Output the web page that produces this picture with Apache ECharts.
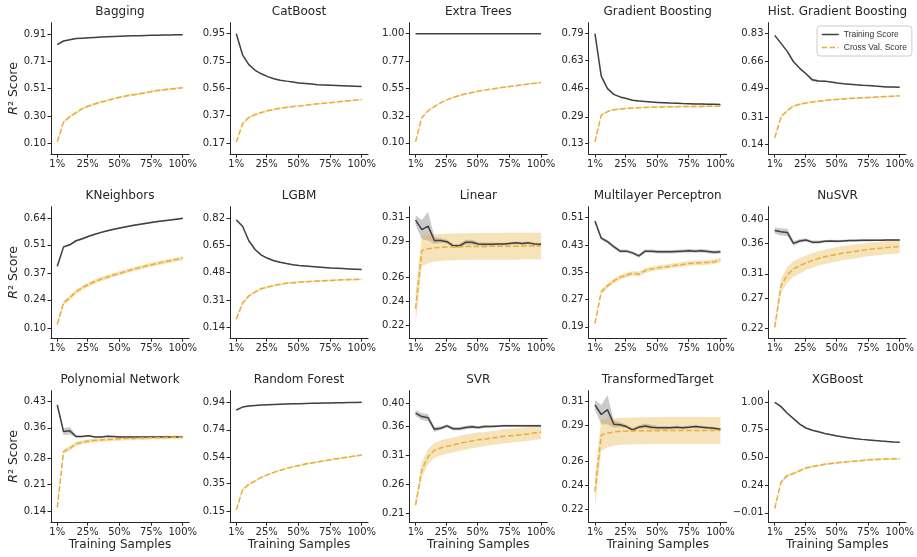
<!DOCTYPE html>
<html><head><meta charset="utf-8">
<script src="https://cdn.jsdelivr.net/npm/echarts@6/dist/echarts.min.js"></script>
<style>html,body{margin:0;padding:0;background:#fff}#c{width:917px;height:557px}</style>
</head><body><div id="c"></div>
<script>
// ---- data ----
const xPct = [1, 5.95, 10.9, 15.85, 20.8, 25.75, 30.7, 35.65, 40.6, 45.55, 50.5, 55.45, 60.4, 65.35, 70.3, 75.25, 80.2, 85.15, 90.1, 95.05, 100];
const xTickVals = [1, 25, 50, 75, 100];

const baggingTicks = [0.10, 0.30, 0.51, 0.71, 0.91];
const baggingTrain = [0.835,0.862,0.872,0.880,0.883,0.886,0.889,0.891,0.893,0.895,0.897,0.899,0.901,0.902,0.903,0.904,0.905,0.906,0.907,0.908,0.909];
const baggingCv = [0.115,0.26,0.30,0.33,0.36,0.38,0.395,0.41,0.42,0.435,0.445,0.455,0.462,0.47,0.476,0.488,0.494,0.50,0.505,0.51,0.515];
const baggingTrainStd = [0.004,0.004,0.003,0.003,0.003,0.003,0.002,0.002,0.002,0.002,0.002,0.002,0.002,0.002,0.002,0.002,0.002,0.002,0.002,0.002,0.002];
const baggingCvStd = [0.01,0.01,0.009,0.009,0.009,0.009,0.008,0.008,0.008,0.008,0.008,0.008,0.008,0.008,0.008,0.008,0.008,0.008,0.008,0.008,0.008];

const catTicks = [0.17, 0.37, 0.56, 0.75, 0.95];
const catTrain = [0.95,0.80,0.73,0.69,0.665,0.645,0.63,0.62,0.613,0.607,0.60,0.596,0.592,0.588,0.586,0.584,0.582,0.58,0.578,0.576,0.574];
const catCv = [0.18,0.31,0.355,0.375,0.39,0.402,0.412,0.42,0.427,0.432,0.437,0.442,0.447,0.452,0.456,0.46,0.465,0.47,0.474,0.478,0.482];
const catTrainStd = [0.003,0.003,0.003,0.003,0.003,0.003,0.003,0.003,0.003,0.003,0.003,0.003,0.003,0.003,0.003,0.003,0.003,0.003,0.003,0.003,0.003];
const catCvStd = [0.009,0.009,0.008,0.008,0.007,0.007,0.006,0.006,0.006,0.006,0.005,0.005,0.005,0.005,0.005,0.005,0.005,0.005,0.005,0.005,0.005];

const etTicks = [0.10, 0.32, 0.55, 0.77, 1.00];
const etTrain = [1,1,1,1,1,1,1,1,1,1,1,1,1,1,1,1,1,1,1,1,1];
const etCv = [0.11,0.31,0.365,0.40,0.43,0.455,0.475,0.49,0.505,0.515,0.525,0.535,0.543,0.551,0.558,0.565,0.572,0.579,0.585,0.591,0.598];
const etTrainStd = [0,0,0,0,0,0,0,0,0,0,0,0,0,0,0,0,0,0,0,0,0];
const etCvStd = [0.008,0.007,0.007,0.006,0.006,0.006,0.006,0.006,0.006,0.006,0.006,0.006,0.006,0.006,0.006,0.006,0.006,0.006,0.006,0.006,0.006];

const gbTicks = [0.13, 0.29, 0.46, 0.63, 0.79];
const gbTrain = [0.79,0.535,0.46,0.425,0.41,0.40,0.39,0.385,0.382,0.379,0.377,0.375,0.373,0.372,0.370,0.369,0.368,0.367,0.366,0.366,0.365];
const gbCv = [0.14,0.30,0.322,0.333,0.338,0.341,0.343,0.345,0.347,0.348,0.349,0.35,0.351,0.351,0.352,0.352,0.353,0.353,0.354,0.354,0.355];
const gbTrainStd = [0.004,0.004,0.003,0.003,0.003,0.003,0.003,0.003,0.003,0.003,0.003,0.003,0.003,0.003,0.003,0.003,0.003,0.003,0.003,0.003,0.003];
const gbCvStd = [0.008,0.006,0.005,0.005,0.005,0.005,0.005,0.005,0.005,0.005,0.005,0.005,0.005,0.005,0.005,0.005,0.005,0.005,0.005,0.005,0.005];

const hgbTicks = [0.14, 0.31, 0.49, 0.66, 0.83];
const hgbTrain = [0.82,0.77,0.72,0.655,0.614,0.58,0.542,0.535,0.534,0.528,0.522,0.518,0.515,0.511,0.508,0.506,0.503,0.501,0.498,0.497,0.495];
const hgbCv = [0.18,0.31,0.35,0.378,0.39,0.398,0.404,0.409,0.413,0.417,0.42,0.423,0.426,0.428,0.43,0.432,0.434,0.436,0.438,0.44,0.442];
const hgbTrainStd = [0.004,0.004,0.004,0.004,0.004,0.005,0.009,0.006,0.004,0.004,0.003,0.003,0.003,0.003,0.003,0.003,0.003,0.003,0.003,0.003,0.003];
const hgbCvStd = [0.008,0.007,0.006,0.006,0.006,0.006,0.005,0.005,0.005,0.005,0.005,0.005,0.005,0.005,0.005,0.005,0.005,0.005,0.005,0.005,0.005];

const knTicks = [0.10, 0.24, 0.37, 0.51, 0.64];
const knTrain = [0.405,0.50,0.51,0.53,0.54,0.552,0.562,0.571,0.579,0.586,0.593,0.599,0.605,0.61,0.615,0.62,0.624,0.628,0.632,0.636,0.64];
const knCv = [0.12,0.225,0.25,0.28,0.30,0.316,0.33,0.342,0.352,0.362,0.371,0.38,0.389,0.397,0.405,0.412,0.419,0.426,0.432,0.438,0.444];
const knTrainStd = [0.005,0.005,0.005,0.005,0.005,0.004,0.004,0.004,0.004,0.004,0.004,0.004,0.004,0.004,0.004,0.004,0.004,0.004,0.004,0.004,0.004];
const knCvStd = [0.012,0.011,0.011,0.011,0.011,0.011,0.011,0.011,0.011,0.01,0.01,0.01,0.01,0.01,0.01,0.01,0.01,0.01,0.01,0.01,0.01];

const lgbmTicks = [0.14, 0.31, 0.48, 0.65, 0.82];
const lgbmTrain = [0.81,0.77,0.68,0.625,0.59,0.57,0.555,0.545,0.537,0.53,0.525,0.522,0.519,0.516,0.513,0.51,0.508,0.506,0.504,0.502,0.50];
const lgbmCv = [0.19,0.29,0.335,0.36,0.38,0.39,0.40,0.408,0.414,0.418,0.421,0.424,0.426,0.428,0.43,0.432,0.434,0.436,0.437,0.438,0.44];
const lgbmTrainStd = [0.005,0.005,0.004,0.004,0.004,0.004,0.004,0.004,0.003,0.003,0.003,0.003,0.003,0.003,0.003,0.003,0.003,0.003,0.003,0.003,0.003];
const lgbmCvStd = [0.01,0.009,0.008,0.008,0.007,0.007,0.007,0.006,0.006,0.006,0.006,0.006,0.006,0.006,0.006,0.006,0.006,0.006,0.006,0.006,0.006];

const linTicks = [0.22, 0.24, 0.26, 0.29, 0.31];
const linTrain = [0.308,0.300,0.303,0.291,0.291,0.290,0.2865,0.2865,0.2895,0.2895,0.288,0.2878,0.2878,0.288,0.288,0.2885,0.289,0.2885,0.289,0.288,0.2878];
const linCv = [0.234,0.2825,0.284,0.285,0.2852,0.2855,0.2857,0.2858,0.2859,0.286,0.286,0.286,0.2861,0.2861,0.2862,0.2862,0.2862,0.2863,0.2863,0.2863,0.2863];
const linTrainStd = [0.004,0.008,0.012,0.003,0.002,0.0015,0.0015,0.0015,0.002,0.002,0.0015,0.0015,0.0012,0.0012,0.0012,0.0012,0.0012,0.0012,0.0012,0.0012,0.0012];
const linCvStd = [0.013,0.013,0.012,0.0115,0.0113,0.0112,0.0112,0.0112,0.0112,0.0112,0.0112,0.0112,0.0112,0.0112,0.0112,0.0112,0.0112,0.0112,0.0112,0.0112,0.0112];

const mlpTicks = [0.19, 0.27, 0.35, 0.43, 0.51];
const mlpTrain = [0.50,0.45,0.44,0.425,0.412,0.412,0.407,0.398,0.412,0.412,0.41,0.41,0.41,0.411,0.412,0.413,0.412,0.413,0.411,0.409,0.41];
const mlpCv = [0.20,0.293,0.31,0.325,0.335,0.342,0.347,0.345,0.355,0.36,0.363,0.365,0.368,0.371,0.373,0.376,0.377,0.378,0.379,0.381,0.386];
const mlpTrainStd = [0.004,0.005,0.005,0.005,0.005,0.005,0.005,0.005,0.005,0.005,0.005,0.005,0.005,0.005,0.005,0.005,0.005,0.005,0.005,0.005,0.005];
const mlpCvStd = [0.006,0.007,0.007,0.007,0.007,0.007,0.007,0.007,0.007,0.007,0.007,0.007,0.007,0.007,0.007,0.007,0.007,0.007,0.007,0.007,0.007];

const nusvrTicks = [0.22, 0.27, 0.31, 0.36, 0.40];
const nusvrTrain = [0.381,0.379,0.378,0.36,0.364,0.3655,0.362,0.362,0.3635,0.364,0.3635,0.364,0.3645,0.3645,0.365,0.365,0.3652,0.3652,0.3655,0.3655,0.3655];
const nusvrCv = [0.222,0.29,0.308,0.318,0.323,0.328,0.332,0.335,0.338,0.34,0.342,0.344,0.3455,0.347,0.3485,0.35,0.351,0.352,0.353,0.354,0.355];
const nusvrTrainStd = [0.005,0.006,0.006,0.004,0.003,0.0025,0.0025,0.0025,0.002,0.002,0.002,0.002,0.002,0.0018,0.0018,0.0018,0.0015,0.0015,0.0015,0.0015,0.0015];
const nusvrCvStd = [0.006,0.012,0.013,0.013,0.013,0.012,0.012,0.012,0.012,0.012,0.012,0.0115,0.0115,0.0115,0.011,0.011,0.011,0.011,0.011,0.011,0.011];

const pnTicks = [0.14, 0.21, 0.28, 0.36, 0.43];
const pnTrain = [0.42,0.35,0.352,0.337,0.337,0.339,0.336,0.336,0.338,0.337,0.336,0.336,0.336,0.336,0.336,0.336,0.3358,0.3356,0.3356,0.3355,0.3355];
const pnCv = [0.15,0.297,0.306,0.318,0.322,0.325,0.327,0.328,0.329,0.33,0.331,0.332,0.332,0.333,0.333,0.334,0.334,0.334,0.335,0.335,0.335];
const pnTrainStd = [0.003,0.009,0.01,0.003,0.002,0.002,0.0015,0.0015,0.0015,0.0015,0.0015,0.0015,0.0015,0.0015,0.0015,0.0015,0.0015,0.0015,0.0015,0.0015,0.0015];
const pnCvStd = [0.006,0.006,0.006,0.006,0.005,0.005,0.005,0.005,0.005,0.005,0.005,0.005,0.005,0.005,0.005,0.005,0.005,0.005,0.005,0.005,0.005];

const rfTicks = [0.15, 0.35, 0.54, 0.74, 0.94];
const rfTrain = [0.884,0.905,0.913,0.917,0.92,0.922,0.924,0.926,0.928,0.929,0.93,0.931,0.932,0.933,0.934,0.935,0.936,0.937,0.938,0.939,0.94];
const rfCv = [0.16,0.305,0.345,0.37,0.395,0.415,0.432,0.447,0.46,0.472,0.482,0.492,0.50,0.508,0.515,0.523,0.53,0.537,0.544,0.551,0.558];
const rfTrainStd = [0.003,0.003,0.003,0.003,0.003,0.003,0.003,0.003,0.003,0.003,0.003,0.003,0.003,0.003,0.003,0.003,0.003,0.003,0.003,0.003,0.003];
const rfCvStd = [0.01,0.008,0.007,0.007,0.006,0.006,0.006,0.006,0.006,0.006,0.006,0.006,0.006,0.006,0.006,0.006,0.006,0.006,0.006,0.006,0.006];

const svrTicks = [0.21, 0.26, 0.31, 0.36, 0.40];
const svrTrain = [0.383,0.377,0.375,0.355,0.357,0.361,0.356,0.356,0.358,0.3595,0.358,0.36,0.36,0.3605,0.361,0.361,0.361,0.361,0.361,0.361,0.361];
const svrCv = [0.225,0.285,0.308,0.319,0.323,0.326,0.328,0.331,0.333,0.335,0.337,0.338,0.34,0.341,0.343,0.344,0.345,0.346,0.347,0.349,0.35];
const svrTrainStd = [0.005,0.006,0.006,0.004,0.003,0.003,0.003,0.003,0.003,0.003,0.0025,0.0025,0.002,0.002,0.002,0.002,0.002,0.002,0.002,0.002,0.002];
const svrCvStd = [0.006,0.013,0.013,0.013,0.013,0.013,0.013,0.013,0.013,0.013,0.013,0.012,0.012,0.012,0.012,0.012,0.012,0.012,0.012,0.012,0.012];

const ttTicks = [0.22, 0.24, 0.26, 0.29, 0.31];
const ttTrain = [0.307,0.299,0.303,0.291,0.2905,0.289,0.2862,0.2885,0.2895,0.2885,0.288,0.288,0.288,0.2885,0.288,0.2885,0.289,0.2885,0.288,0.2875,0.2868];
const ttCv = [0.235,0.282,0.2835,0.2845,0.285,0.2852,0.2853,0.2855,0.2855,0.2856,0.2856,0.2857,0.2857,0.2857,0.2857,0.2858,0.2858,0.2858,0.2858,0.2858,0.2858];
const ttTrainStd = [0.004,0.008,0.012,0.003,0.002,0.0015,0.0015,0.0015,0.002,0.002,0.0015,0.0015,0.0012,0.0012,0.0012,0.0012,0.0012,0.0012,0.0012,0.0012,0.0012];
const ttCvStd = [0.013,0.013,0.012,0.0115,0.0113,0.0112,0.0112,0.0112,0.0112,0.0112,0.0112,0.0112,0.0112,0.0112,0.0112,0.0112,0.0112,0.0112,0.0112,0.0112,0.0112];

const xgbTicks = [-0.01, 0.24, 0.50, 0.75, 1.00];
const xgbTrain = [1.0,0.96,0.90,0.85,0.80,0.765,0.745,0.73,0.715,0.703,0.692,0.682,0.674,0.667,0.661,0.656,0.651,0.646,0.642,0.638,0.635];
const xgbCv = [0.03,0.27,0.33,0.35,0.375,0.40,0.412,0.422,0.433,0.44,0.447,0.453,0.458,0.463,0.468,0.474,0.477,0.48,0.482,0.483,0.484];
const xgbTrainStd = [0.004,0.006,0.006,0.005,0.005,0.005,0.005,0.004,0.004,0.004,0.004,0.004,0.004,0.004,0.004,0.004,0.004,0.004,0.004,0.004,0.004];
const xgbCvStd = [0.02,0.015,0.012,0.011,0.01,0.01,0.01,0.009,0.009,0.009,0.009,0.009,0.009,0.009,0.009,0.009,0.009,0.009,0.009,0.009,0.009];

const panels = [
  {title:'Bagging', ticks:baggingTicks, train:baggingTrain, cv:baggingCv, trainStd:baggingTrainStd, cvStd:baggingCvStd},
  {title:'CatBoost', ticks:catTicks, train:catTrain, cv:catCv, trainStd:catTrainStd, cvStd:catCvStd},
  {title:'Extra Trees', ticks:etTicks, train:etTrain, cv:etCv, trainStd:etTrainStd, cvStd:etCvStd},
  {title:'Gradient Boosting', ticks:gbTicks, train:gbTrain, cv:gbCv, trainStd:gbTrainStd, cvStd:gbCvStd},
  {title:'Hist. Gradient Boosting', ticks:hgbTicks, train:hgbTrain, cv:hgbCv, trainStd:hgbTrainStd, cvStd:hgbCvStd},
  {title:'KNeighbors', ticks:knTicks, train:knTrain, cv:knCv, trainStd:knTrainStd, cvStd:knCvStd},
  {title:'LGBM', ticks:lgbmTicks, train:lgbmTrain, cv:lgbmCv, trainStd:lgbmTrainStd, cvStd:lgbmCvStd},
  {title:'Linear', ticks:linTicks, train:linTrain, cv:linCv, trainStd:linTrainStd, cvStd:linCvStd},
  {title:'Multilayer Perceptron', ticks:mlpTicks, train:mlpTrain, cv:mlpCv, trainStd:mlpTrainStd, cvStd:mlpCvStd},
  {title:'NuSVR', ticks:nusvrTicks, train:nusvrTrain, cv:nusvrCv, trainStd:nusvrTrainStd, cvStd:nusvrCvStd},
  {title:'Polynomial Network', ticks:pnTicks, train:pnTrain, cv:pnCv, trainStd:pnTrainStd, cvStd:pnCvStd},
  {title:'Random Forest', ticks:rfTicks, train:rfTrain, cv:rfCv, trainStd:rfTrainStd, cvStd:rfCvStd},
  {title:'SVR', ticks:svrTicks, train:svrTrain, cv:svrCv, trainStd:svrTrainStd, cvStd:svrCvStd},
  {title:'TransformedTarget', ticks:ttTicks, train:ttTrain, cv:ttCv, trainStd:ttTrainStd, cvStd:ttCvStd},
  {title:'XGBoost', ticks:xgbTicks, train:xgbTrain, cv:xgbCv, trainStd:xgbTrainStd, cvStd:xgbCvStd}
];

// ---- layout / style ----
const yRange = [
  [0.022,0.998],[0.094,1.028],[0.0067,1.091],[0.0656,0.856],[0.0775,0.899],
  [0.052,0.697],[0.071,0.8925],[0.2094,0.3192],[0.1568,0.5423],[0.204,0.4203],
  [0.1111,0.4578],[0.0706,1.0238],[0.195,0.4216],[0.2095,0.3188],[-0.0955,1.1056]
];
const colLeft = [51, 230, 409.3, 588.7, 768.5];
const rowTop = [22.7, 206.7, 390.7];
const W = 138, H = 131.5;
const FONT = 'DejaVu Sans';
const TXT = '#262626';
const TRAIN_C = '#404040';
const CV_C = '#e8ae3a';
const TRAIN_BAND = 'rgba(64,64,64,0.28)';
const CV_BAND = 'rgba(232,174,58,0.35)';

const grid=[], xAxis=[], yAxis=[], series=[], title=[];

function band(i, mean, std, color){
  const data = xPct.map((x,k)=>[x, mean[k]-std[k], mean[k]+std[k]]);
  return {
    type:'custom', xAxisIndex:i, yAxisIndex:i, silent:true, z:1, data:data,
    encode:{x:0, y:[1,2]},
    renderItem:function(params, api){
      if(params.dataIndex!==0) return null;
      const up = data.map(d=>api.coord([d[0], d[2]]));
      const lo = data.map(d=>api.coord([d[0], d[1]])).reverse();
      return {type:'polygon', shape:{points:up.concat(lo)}, style:{fill:color}};
    }
  };
}

panels.forEach((p,i)=>{
  const r = Math.floor(i/5), c = i%5;
  grid.push({left:colLeft[c], top:rowTop[r], width:W, height:H});
  title.push({text:p.title, left:colLeft[c]+W/2, top:rowTop[r]-16.5, textAlign:'center', padding:0,
    textStyle:{fontSize:12, fontWeight:'normal', color:TXT, fontFamily:FONT}});
  xAxis.push({
    type:'value', gridIndex:i, min:-3.95, max:104.95,
    axisLine:{show:true, onZero:false, lineStyle:{color:TXT, width:1}},
    axisTick:{show:true, customValues:xTickVals, length:3.5, lineStyle:{color:TXT, width:1}},
    axisLabel:{customValues:xTickVals, formatter:v=>Math.round(v)+'%', fontSize:10, color:TXT, margin:5, fontFamily:FONT},
    splitLine:{show:false},
    name: r===2 ? 'Training Samples' : '', nameLocation:'middle', nameGap:17,
    nameTextStyle:{fontSize:12, color:TXT, fontFamily:FONT}
  });
  yAxis.push({
    type:'value', gridIndex:i, min:yRange[i][0], max:yRange[i][1],
    axisLine:{show:true, onZero:false, lineStyle:{color:TXT, width:1}},
    axisTick:{show:true, customValues:p.ticks, length:3.5, lineStyle:{color:TXT, width:1}},
    axisLabel:{customValues:p.ticks, formatter:v=>v.toFixed(2).replace('-','\u2212'), fontSize:10, color:TXT, margin:5, fontFamily:FONT},
    splitLine:{show:false},
    name: c===0 ? '{i|R}\u00b2 Score' : '', nameLocation:'middle', nameGap:30, nameRotate:90,
    nameTextStyle:{fontSize:12.5, color:TXT, fontFamily:FONT, rich:{i:{fontStyle:'italic', fontSize:12.5, color:TXT, fontFamily:FONT}}}
  });
  series.push(band(i, p.train, p.trainStd, TRAIN_BAND));
  series.push(band(i, p.cv, p.cvStd, CV_BAND));
  series.push({type:'line', name:'Training Score', xAxisIndex:i, yAxisIndex:i, z:3,
    data:xPct.map((x,k)=>[x,p.train[k]]), showSymbol:false, symbol:'none',
    lineStyle:{color:TRAIN_C, width:1.5}, itemStyle:{color:TRAIN_C}});
  series.push({type:'line', name:'Cross Val. Score', xAxisIndex:i, yAxisIndex:i, z:3,
    data:xPct.map((x,k)=>[x,p.cv[k]]), showSymbol:false, symbol:'none',
    lineStyle:{color:CV_C, width:1.5, type:[5.5,2.4]}, itemStyle:{color:CV_C}});
});

const chart = echarts.init(document.getElementById('c'), null, {renderer:'canvas'});
chart.setOption({
  animation:false,
  backgroundColor:'#ffffff',
  title:title, grid:grid, xAxis:xAxis, yAxis:yAxis, series:series,
  legend:{
    data:['Training Score','Cross Val. Score'], orient:'vertical', left:817, top:26,
    itemWidth:17, itemHeight:8, itemGap:4, padding:[4,5,4,4],
    borderColor:'#cccccc', borderWidth:1, borderRadius:3, backgroundColor:'rgba(255,255,255,0.85)',
    selectedMode:false,
    itemStyle:{opacity:0, borderWidth:0},
    lineStyle:{width:1.5},
    textStyle:{fontSize:8.5, color:'#333333', fontFamily:'Liberation Sans'}
  }
});
</script></body></html>
